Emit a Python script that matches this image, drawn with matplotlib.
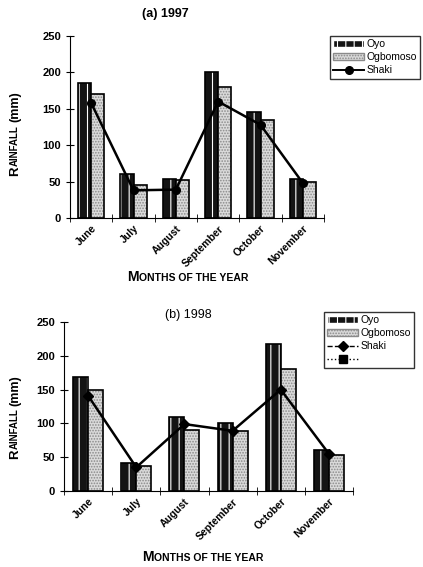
import numpy as np
import matplotlib
matplotlib.use("Agg")
import matplotlib.pyplot as plt
from matplotlib.lines import Line2D
from matplotlib.patches import Patch

plt.rcParams['font.family'] = ['Liberation Sans', 'DejaVu Sans']
plt.rcParams['hatch.linewidth'] = 0.8

months = ["June", "July", "August", "September", "October", "November"]

# 1997 rainfall (mm)
oyo_97 = [185, 60, 54, 200, 145, 53]
ogb_97 = [170, 46, 52, 180, 135, 50]
shaki_97 = [158, 38, 39, 160, 128, 48]

# 1998 rainfall (mm)
oyo_98 = [168, 41, 110, 100, 218, 60]
ogb_98 = [150, 37, 90, 89, 180, 53]
shaki_98 = [141, 35, 99, 89, 150, 55]

W, H = 423, 567
fig = plt.figure(figsize=(W / 100, H / 100), dpi=100)


def small_caps(x, y, parts, rotation=0):
    # parts: (text, fontsize, gap before in px); x, y in pixels
    r = fig.canvas.get_renderer()
    items = []
    for s, fs, gap in parts:
        t = fig.text(0, 0, s, fontsize=fs, fontweight='bold', ha='left',
                     va='baseline', rotation_mode='anchor')
        w = t.get_window_extent(r).width
        items.append((t, w, gap))
    total = sum(w + g for _, w, g in items)
    pos = -total / 2
    for t, w, g in items:
        pos += g
        if rotation == 90:
            t.set_rotation(90)
            t.set_position((x / W, 1 - (y - pos) / H))
        else:
            t.set_position(((x + pos) / W, 1 - y / H))
        pos += w


def draw_panel(ax, oyo, ogb, shaki, marker):
    x = np.arange(len(months))
    bw = 0.31
    ax.bar(x - bw / 2, oyo, bw, color='#141414', edgecolor='white',
           hatch='||', linewidth=0)
    ax.bar(x - bw / 2, oyo, bw, fill=False, edgecolor='black', linewidth=1.2)
    ax.bar(x + bw / 2, ogb, bw, color='#dadada', edgecolor='#8a8a8a',
           hatch='......', linewidth=0)
    ax.bar(x + bw / 2, ogb, bw, fill=False, edgecolor='black', linewidth=1.2)
    ax.plot(x, shaki, color='black', lw=1.8, marker=marker, ms=5.5)

    ax.set_xlim(-0.5, len(months) - 0.5)
    ax.set_ylim(0, 250)
    ax.set_yticks([0, 50, 100, 150, 200, 250])
    ax.set_xticks(x)
    ax.set_xticklabels(months, rotation=45, ha='right',
                       rotation_mode='anchor', fontsize=7.5,
                       fontweight='bold')
    ax.set_xticks(np.arange(-0.5, len(months)), minor=True)
    ax.tick_params(axis='x', which='major', length=0, pad=4)
    ax.tick_params(axis='x', which='minor', direction='inout', length=6)
    ax.tick_params(axis='y', direction='inout', length=6, labelsize=8)
    for lab in ax.get_yticklabels():
        lab.set_fontweight('bold')
    ax.spines['top'].set_visible(False)
    ax.spines['right'].set_visible(False)


# (a) 1997
ax1 = fig.add_axes([70 / W, 1 - 218 / H, 254 / W, 182 / H])
draw_panel(ax1, oyo_97, ogb_97, shaki_97, 'o')
fig.text(165 / W, 1 - 14 / H, "(a) 1997", ha='center', va='center',
         fontsize=9, fontweight='bold')
h1 = [Patch(facecolor='#141414', edgecolor='white', hatch='||'),
      Patch(facecolor='#dadada', edgecolor='#8a8a8a', hatch='......'),
      Line2D([], [], color='black', lw=1.4, marker='o', ms=5.5)]
fig.legend(h1, ["Oyo", "Ogbomoso", "Shaki"], loc='upper left',
           bbox_to_anchor=(330 / W, 1 - 36 / H), fontsize=7.5, frameon=True,
           fancybox=False, edgecolor='black', handlelength=3.0,
           handletextpad=0.2, borderpad=0.3, labelspacing=0.3,
           borderaxespad=0)

# (b) 1998
ax2 = fig.add_axes([64 / W, 1 - 491 / H, 289 / W, 169 / H])
draw_panel(ax2, oyo_98, ogb_98, shaki_98, 'D')
fig.text(188 / W, 1 - 315 / H, "(b) 1998", ha='center', va='center',
         fontsize=9)
h2 = [Patch(facecolor='#141414', edgecolor='white', hatch='||'),
      Patch(facecolor='#dadada', edgecolor='#8a8a8a', hatch='......'),
      Line2D([], [], color='black', lw=1, ls='--', marker='D', ms=5),
      Line2D([], [], color='black', lw=1, ls=':', marker='s', ms=5.5)]
fig.legend(h2, ["Oyo", "Ogbomoso", "Shaki", ""], loc='upper left',
           bbox_to_anchor=(324 / W, 1 - 312 / H), fontsize=7.5, frameon=True,
           fancybox=False, edgecolor='black', handlelength=3.0,
           handletextpad=0.2, borderpad=0.3, labelspacing=0.3,
           borderaxespad=0)

# small-caps axis titles
for yc in (134, 417):
    small_caps(18, yc, [("R", 9.5, 0), ("AINFALL", 7, 0.5), ("(mm)", 9, 3)],
               rotation=90)
small_caps(188, 281, [("M", 10, 0), ("ONTHS OF THE YEAR", 7.5, 0.5)])
small_caps(203, 561, [("M", 10, 0), ("ONTHS OF THE YEAR", 7.5, 0.5)])

fig.savefig("out.png", dpi=100)
